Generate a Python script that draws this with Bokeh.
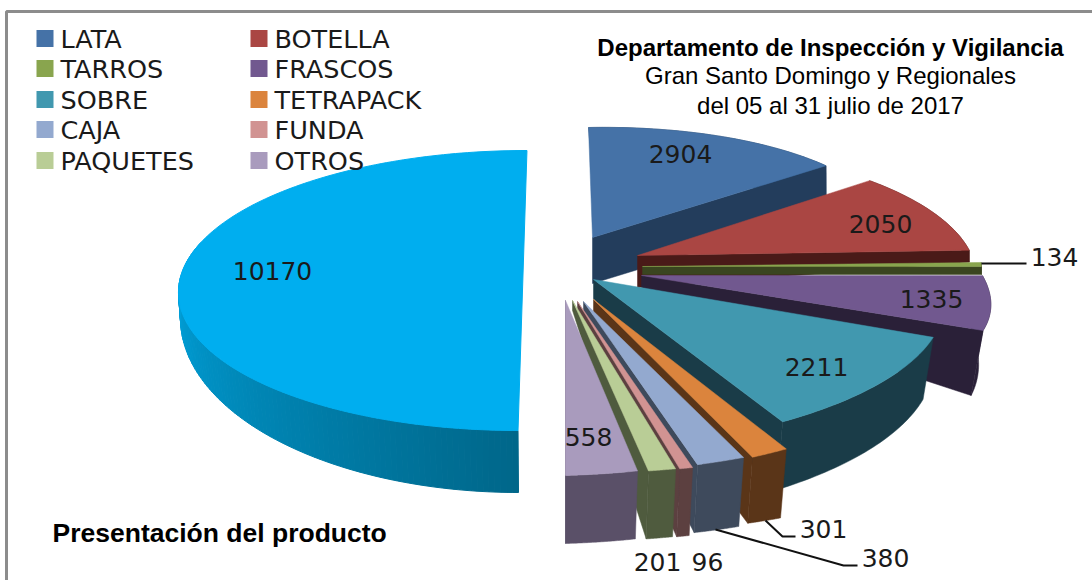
import numpy as np
from bokeh.plotting import figure
from bokeh.models import Range1d
from bokeh.core.properties import value
from bokeh.embed import file_html
from bokeh.resources import INLINE

categories = ["LATA", "BOTELLA", "TARROS", "FRASCOS", "SOBRE", "TETRAPACK", "CAJA", "FUNDA", "PAQUETES", "OTROS"]
values = [2904, 2050, 134, 1335, 2211, 301, 380, 96, 201, 558]
big_value = 10170

top_colors = ["#4572A7", "#AA4643", "#89A54E", "#71588F", "#4198AF", "#DB843D", "#93A9CF", "#D19392", "#B9CD96", "#A99BBD"]
side_colors = ["#233D5C", "#4A1A18", "#3A4520", "#2A2038", "#1A3C48", "#5A3518", "#3E4A5C", "#5C4040", "#4F5B3E", "#5A5068"]
big_color = "#00AEEF"

apex_x = [592, 637, 642, 641, 593, 593, 583, 577, 572, 565]
apex_y = [237, 255, 266, 275, 279, 299, 301, 301, 300, 300]
rx0 = [300, 297, 339, 341, 371, 422, 430, 441, 444, 420]
rx1 = [302, 332, 339, 373, 414, 427, 437, 440, 443, 420]
ry0 = [110, 120, 100, 137, 144, 168, 168, 172, 173, 173]
ry1 = [115, 130, 100, 137, 160, 170, 169, 172, 173, 175]
lean = [4, 0, 0, 0, 0, 0, 0, 0, 0, 0]
wall_scale = [0.99, 1.0, 1.0, 0.965, 0.97, 0.97, 0.97, 0.97, 0.97, 0.97]
depth_apex = [46, 32, 8, 12, 19, 18, 15, 12, 10, 68]
depth_out0 = [46, 12, 8, 55, 62, 69, 69, 68, 68, 68]
depth_out1 = [46, 12, 8, 65, 68, 66, 68, 68, 68, 68]

label_x = [680, 880, 1054, 931, 816, 823, 885, 707, 657, 588]
label_y = [153, 223, 256, 298, 366, 528, 557, 561, 561, 436]

leader_xs = [[981, 1026], [765, 782, 795], [715, 843, 857]]
leader_ys = [[263, 263], [520, 536, 536], [529, 565, 565]]

legend_col_x = [36, 250]
legend_row_y = [38, 68, 99, 129, 160]

total = sum(values) + big_value
edges = np.concatenate([[0.0], np.cumsum(values)]) / total * 360.0

p = figure(width=1092, height=580, output_backend="svg", toolbar_location=None,
           x_range=Range1d(0, 1092), y_range=Range1d(580, 0), min_border=0,
           outline_line_color=None, background_fill_color="white", border_fill_color="white")
p.axis.visible = False
p.grid.visible = False

p.line([6, 6, 1092], [580, 11, 11], line_color="#8c8c8c", line_width=3)


def lerp_hex(a, b, t):
    ca = [int(a[i:i + 2], 16) for i in (1, 3, 5)]
    cb = [int(b[i:i + 2], 16) for i in (1, 3, 5)]
    return "#%02x%02x%02x" % tuple(int(round(u + (v - u) * t)) for u, v in zip(ca, cb))


big_deg = big_value / total * 360.0
ang = np.radians(np.linspace(edges[-1], edges[-1] + big_deg, 181))


def big_top(a):
    y = 290 - 140 * np.cos(a)
    return 522 + 344 * np.sin(a) - 0.032 * (y - 290), y


def big_bottom(a):
    return 518 + 338 * np.sin(a), 318 - 174 * np.cos(a)


tx, ty = big_top(ang)
bx, by = big_bottom(ang)
for i in range(0, 110):
    t = min(1.0, i / 95.0)
    c = lerp_hex("#00678A", "#00A2DC", t)
    p.patch([tx[i], tx[i + 1], bx[i + 1], bx[i]], [ty[i], ty[i + 1], by[i + 1], by[i]],
            fill_color=c, line_color=c, line_width=1)
p.patch(tx.tolist(), ty.tolist(), fill_color=big_color, line_color=big_color, line_width=1)

for k in range(len(values)):
    a0, a1 = edges[k], edges[k + 1]
    f = np.linspace(0, 1, 40)
    a = np.radians(a0 + (a1 - a0) * f)
    rx = rx0[k] + (rx1[k] - rx0[k]) * f
    ry = ry0[k] + (ry1[k] - ry0[k]) * f
    d = depth_out0[k] + (depth_out1[k] - depth_out0[k]) * f
    ox = apex_x[k] + rx * np.sin(a) - lean[k] * np.cos(a)
    oy = apex_y[k] - ry * np.cos(a)
    ux = apex_x[k] + wall_scale[k] * rx * np.sin(a)
    uy = oy + d
    p.patch(np.concatenate([ox, ux[::-1]]).tolist(), np.concatenate([oy, uy[::-1]]).tolist(),
            fill_color=side_colors[k], line_color=side_colors[k], line_width=0.5)
    p.patch([apex_x[k], ox[-1], ux[-1], apex_x[k]],
            [apex_y[k], oy[-1], uy[-1], apex_y[k] + depth_apex[k]],
            fill_color=side_colors[k], line_color=side_colors[k], line_width=0.5)
    p.patch(np.concatenate([[apex_x[k]], ox]).tolist(), np.concatenate([[apex_y[k]], oy]).tolist(),
            fill_color=top_colors[k], line_color=top_colors[k], line_width=0.5)

p.multi_line(leader_xs, leader_ys, line_color="#111111", line_width=2)

label_font = value("DejaVu Sans")
p.text(label_x, label_y, text=[str(v) for v in values], text_font=label_font, text_font_size="25px",
       text_color="#1a1a1a", text_align="center", text_baseline="middle")
p.text([272], [270], text=[str(big_value)], text_font=label_font, text_font_size="25px",
       text_color="#1a1a1a", text_align="center", text_baseline="middle")

for i, name in enumerate(categories):
    col = i % 2
    row = i // 2
    sx = legend_col_x[col]
    sy = legend_row_y[row]
    p.scatter([sx + 8.5], [sy], marker="square", size=17, fill_color=top_colors[i], line_color=None)
    p.text([sx + 24], [sy], text=[name], text_font=label_font, text_font_size="25.5px",
           text_color="#1a1a1a", text_align="left", text_baseline="middle")

arial = value("Liberation Sans")
p.text([830], [47], text=["Departamento de Inspección y Vigilancia"], text_font=arial, text_font_size="24px",
       text_font_style="bold", text_color="black", text_align="center", text_baseline="middle")
p.text([830], [75], text=["Gran Santo Domingo y Regionales"], text_font=arial, text_font_size="24px",
       text_color="black", text_align="center", text_baseline="middle")
p.text([830], [105], text=["del 05 al 31 julio de 2017"], text_font=arial, text_font_size="24px",
       text_color="black", text_align="center", text_baseline="middle")
p.text([52], [532], text=["Presentación del producto"], text_font=arial, text_font_size="26.5px",
       text_font_style="bold", text_color="black", text_align="left", text_baseline="middle")

open("out.html", "w").write(file_html(p, INLINE))
